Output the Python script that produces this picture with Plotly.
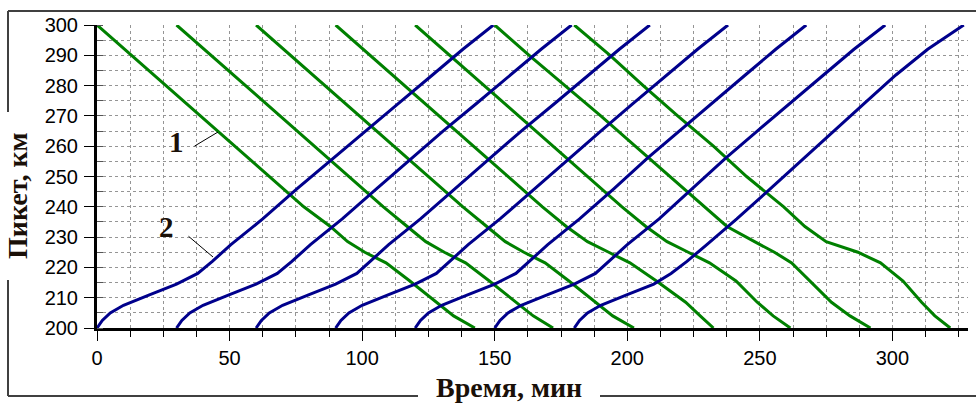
import plotly.graph_objects as go

# ---------------- data ----------------
x_ticks = [0, 50, 100, 150, 200, 250, 300]
y_ticks = [200, 210, 220, 230, 240, 250, 260, 270, 280, 290, 300]

# trains 300 -> 200 km (green): km levels shared, time per train
green_km = [300, 290, 280, 270, 260, 250, 240, 233.5, 228.5, 225, 221.5, 215.5, 208.5, 204, 200]
green_t1 = [0, 13, 26, 39, 52, 65, 78, 88, 94.5, 101, 109, 118, 128, 134.5, 142.5]
green_t2 = [30, 43, 56, 69, 82, 95, 108, 117, 124, 131, 139, 148, 158, 164.5, 172]
green_t3 = [60, 73, 86, 99, 112, 125, 138, 147, 154, 161, 169, 178, 188, 194.5, 202.5]
green_t4 = [90, 103, 116, 129, 142, 155, 168, 177, 185, 193, 201, 211, 222, 227.5, 232.5]
green_t5 = [120, 133, 146, 159, 172, 185, 198, 207, 215, 223, 231, 241, 249, 255, 261.5]
green_t6 = [150, 163, 176.5, 190, 203, 216.2, 229, 237.6, 248, 255.5, 262, 269, 277, 284, 291.7]
green_t7 = [180, 193.5, 206, 219, 232.5, 245, 259, 267, 275, 287, 295.5, 304, 311, 316, 321.8]

# trains 200 -> 300 km (blue)
blue_km = [200, 202.5, 205, 207.5, 211, 214.5, 218, 222, 227.5, 236, 246, 256, 265, 274, 283.5, 292, 300]
blue_t1 = [0, 2, 5, 10, 20, 30, 38, 43.5, 50.5, 62.5, 75.5, 89, 101, 113.5, 126.5, 138, 149.5]
blue_t2 = [30, 32, 35, 40, 50, 60, 68, 73.5, 80.5, 92.5, 105.5, 118.5, 130.5, 143, 156, 167.5, 179]
blue_t3 = [60, 62, 65, 70, 80, 90, 98, 103, 110, 122, 135, 148, 160, 172.5, 185.5, 197, 208.5]
blue_t4 = [90, 92, 95, 100, 110, 120, 128, 133, 140, 152, 165, 178, 190, 202, 215, 226.5, 238]
blue_t5 = [120, 122, 125, 130, 140, 150, 158, 163, 170, 182, 195, 207.5, 219.5, 231.5, 244.5, 256, 267.5]
blue_t6 = [150, 152, 155, 160, 170, 180, 188, 193, 200, 212, 224.5, 237, 249, 261, 274, 285.5, 297.3]
blue_t7 = [180, 182, 185, 190, 200, 210, 216.5, 222.5, 230, 241.3, 254, 266.5, 277.8, 289.2, 301.3, 313.3, 326.9]

green_times = [green_t1, green_t2, green_t3, green_t4, green_t5, green_t6, green_t7]
blue_times = [blue_t1, blue_t2, blue_t3, blue_t4, blue_t5, blue_t6, blue_t7]

x_title = "Время, мин"
y_title = "Пикет, км"
label_1 = "1"
label_2 = "2"

# ---------------- figure ----------------
W, H = 976, 405
ML, MR, MT, MB = 97, 8, 25, 77
PW, PH = W - ML - MR, H - MT - MB


def px(xp):
    return (xp - ML) / PW


def py(yp):
    return (H - MB - yp) / PH


GREEN = "#008000"
BLUE = "#00008C"

fig = go.Figure()
for t in green_times:
    fig.add_trace(go.Scatter(x=t, y=green_km, mode="lines",
                             line=dict(color=GREEN, width=3),
                             showlegend=False, hoverinfo="skip"))
for t in blue_times:
    fig.add_trace(go.Scatter(x=t, y=blue_km, mode="lines",
                             line=dict(color=BLUE, width=3),
                             showlegend=False, hoverinfo="skip"))

tickfont = dict(family="Liberation Sans, Arial, sans-serif", size=20, color="black")
grid_col = "#959595"

fig.update_layout(
    width=W, height=H,
    margin=dict(l=ML, r=MR, t=MT, b=MB, pad=0),
    paper_bgcolor="white", plot_bgcolor="white",
    showlegend=False,
    xaxis=dict(
        range=[0, 328.5], tickmode="array", tickvals=x_ticks,
        ticks="outside", ticklen=10, tickwidth=1, tickcolor="black",
        showline=True, linewidth=3, linecolor="black",
        showgrid=True, gridcolor=grid_col, griddash="dot", gridwidth=1,
        zeroline=False, tickfont=tickfont, ticklabelstandoff=0,
        minor=dict(dtick=12.5, tick0=0, ticks="outside", ticklen=6,
                   tickcolor="black", showgrid=True, gridcolor=grid_col,
                   griddash="dot", gridwidth=1),
    ),
    yaxis=dict(
        range=[200, 300], tickmode="array", tickvals=y_ticks,
        ticks="outside", ticklen=10, tickwidth=1, tickcolor="black",
        showline=True, linewidth=3, linecolor="black",
        showgrid=True, gridcolor=grid_col, griddash="dot", gridwidth=1,
        zeroline=False, tickfont=tickfont, ticklabelstandoff=2,
        minor=dict(dtick=5, tick0=200, ticks="inside", ticklen=6,
                   tickcolor="#555555", showgrid=True, gridcolor=grid_col,
                   griddash="dot", gridwidth=1),
    ),
)

# group-box frame (with gaps for the titles)
frame_col = "#404040"
segments = [
    ((8, 11), (W, 11)),
    ((8, 11), (8, 112)),
    ((8, 280), (8, 396)),
    ((8, 396), (418, 396)),
    ((600, 396), (W, 396)),
]
for (x0, y0), (x1, y1) in segments:
    fig.add_shape(type="line", xref="paper", yref="paper",
                  x0=px(x0), y0=py(y0), x1=px(x1), y1=py(y1),
                  line=dict(color=frame_col, width=2), layer="above")

title_font = dict(family="Liberation Serif, Times New Roman, serif", size=28, color="#1a1008")
fig.add_annotation(xref="paper", yref="paper", x=px(509), y=py(387),
                   text="<b>" + x_title + "</b>", showarrow=False,
                   font=title_font, xanchor="center", yanchor="middle")
fig.add_annotation(xref="paper", yref="paper", x=px(17), y=py(196),
                   text="<b>" + y_title + "</b>", showarrow=False, textangle=-90,
                   font=title_font, xanchor="center", yanchor="middle")

num_font = dict(family="Liberation Serif, Times New Roman, serif", size=29, color="#1a1008")
fig.add_annotation(xref="paper", yref="paper", x=px(176), y=py(142),
                   text="<b>" + label_1 + "</b>", showarrow=False, font=num_font,
                   xanchor="center", yanchor="middle")
fig.add_annotation(xref="paper", yref="paper", x=px(166), y=py(227),
                   text="<b>" + label_2 + "</b>", showarrow=False, font=num_font,
                   xanchor="center", yanchor="middle")

# leader lines from the labels to the curves
fig.add_annotation(xref="paper", yref="paper", x=px(218), y=py(132), text="",
                   showarrow=True, arrowhead=0, arrowwidth=1, arrowcolor="black",
                   ax=193 - 218, ay=147 - 132)
fig.add_annotation(xref="paper", yref="paper", x=px(213), y=py(257), text="",
                   showarrow=True, arrowhead=0, arrowwidth=1, arrowcolor="black",
                   ax=187 - 213, ay=235 - 257)

fig.write_html("out.html")
